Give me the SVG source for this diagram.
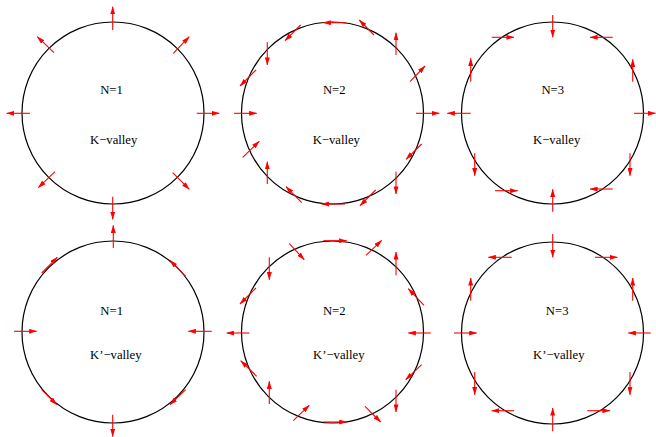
<svg xmlns="http://www.w3.org/2000/svg" width="656" height="437" viewBox="0 0 656 437">
<defs>
<marker id="ah" markerUnits="userSpaceOnUse" markerWidth="8" markerHeight="5" viewBox="0 0 8 5" refX="7.6" refY="2.5" orient="auto">
<path d="M0,0 L8,2.5 L0,5 z" fill="#ff0000"/>
</marker>
<style>
.c{fill:none;stroke:#000;stroke-width:1.2}
.a{stroke:#ff0000;stroke-width:1.1;fill:none;marker-end:url(#ah)}
text{font-family:"Liberation Serif","Times New Roman",serif;font-size:12.7px;fill:#000;text-anchor:middle}
</style>
</defs>
<rect width="656" height="437" fill="#fff"/>

<g id="panel-k-n1">
<circle class="c" cx="113" cy="113" r="91"/>
<text x="111.5" y="94.3">N=1</text>
<text x="113.7" y="144">K−valley</text>
<g class="arrows">
<line class="a" x1="112.7" y1="30" x2="112.7" y2="6.7"/>
<line class="a" x1="173.3" y1="53.3" x2="189.3" y2="36.7"/>
<line class="a" x1="196.7" y1="113.3" x2="219.3" y2="113.3"/>
<line class="a" x1="172.7" y1="172.7" x2="189.3" y2="189.3"/>
<line class="a" x1="112.7" y1="196.7" x2="112.7" y2="219.3"/>
<line class="a" x1="55" y1="171.7" x2="38.3" y2="187.7"/>
<line class="a" x1="30" y1="113.3" x2="6.7" y2="113.3"/>
<line class="a" x1="54" y1="52.7" x2="37.3" y2="36.7"/>
</g>
</g>

<g id="panel-k-n2">
<circle class="c" cx="332.5" cy="113" r="91"/>
<text x="334.3" y="94.3">N=2</text>
<text x="336.3" y="144">K−valley</text>
<g class="arrows">
<line class="a" x1="346" y1="22.7" x2="323.3" y2="22.7"/>
<line class="a" x1="374" y1="35" x2="359.3" y2="20"/>
<line class="a" x1="396" y1="55" x2="396" y2="32.7"/>
<line class="a" x1="410" y1="81.7" x2="425" y2="66"/>
<line class="a" x1="416" y1="113.3" x2="439.3" y2="113.3"/>
<line class="a" x1="421.7" y1="144" x2="406" y2="159.3"/>
<line class="a" x1="396" y1="171.7" x2="396" y2="194"/>
<line class="a" x1="375.7" y1="190" x2="360" y2="205.7"/>
<line class="a" x1="345" y1="204" x2="321.7" y2="204"/>
<line class="a" x1="301.7" y1="202.7" x2="286" y2="186.7"/>
<line class="a" x1="267.3" y1="184" x2="267.3" y2="161.7"/>
<line class="a" x1="242.7" y1="157.3" x2="259.3" y2="141.3"/>
<line class="a" x1="234" y1="113.3" x2="256.7" y2="113.3"/>
<line class="a" x1="256" y1="70" x2="240" y2="86"/>
<line class="a" x1="267.3" y1="42.3" x2="267.3" y2="65"/>
<line class="a" x1="300.7" y1="25" x2="285" y2="40.7"/>
</g>
</g>

<g id="panel-k-n3">
<circle class="c" cx="552.5" cy="113" r="91"/>
<text x="552.8" y="94.3">N=3</text>
<text x="556.7" y="144">K−valley</text>
<g class="arrows">
<line class="a" x1="552.7" y1="15" x2="552.7" y2="37.3"/>
<line class="a" x1="612.7" y1="37.3" x2="590" y2="37.3"/>
<line class="a" x1="632.7" y1="81.7" x2="632.7" y2="59.3"/>
<line class="a" x1="634" y1="113.3" x2="655.5" y2="113.3"/>
<line class="a" x1="630" y1="153.3" x2="630" y2="175.7"/>
<line class="a" x1="612.7" y1="189" x2="590" y2="189"/>
<line class="a" x1="552.7" y1="211.7" x2="552.7" y2="189.3"/>
<line class="a" x1="495" y1="190.7" x2="517.7" y2="190.7"/>
<line class="a" x1="474.7" y1="153.3" x2="474.7" y2="175.7"/>
<line class="a" x1="470.7" y1="113.3" x2="447.3" y2="113.3"/>
<line class="a" x1="470.7" y1="81.7" x2="470.7" y2="58.3"/>
<line class="a" x1="491.7" y1="37.3" x2="514" y2="37.3"/>
</g>
</g>

<g id="panel-kp-n1">
<circle class="c" cx="113" cy="332" r="91"/>
<text x="111.7" y="314.7">N=1</text>
<text x="115.8" y="358.7">K’−valley</text>
<g class="arrows">
<line class="a" x1="113.3" y1="248" x2="113.3" y2="225.3"/>
<line class="a" x1="185.7" y1="276.3" x2="170" y2="260.3"/>
<line class="a" x1="211.7" y1="331.3" x2="188.3" y2="331.3"/>
<line class="a" x1="185.7" y1="389.7" x2="170" y2="404.7"/>
<line class="a" x1="112.7" y1="414.7" x2="112.7" y2="436.5"/>
<line class="a" x1="41.7" y1="389.7" x2="56.7" y2="404.7"/>
<line class="a" x1="14" y1="331.3" x2="36.7" y2="331.3"/>
<line class="a" x1="41.7" y1="273" x2="57.3" y2="257.3"/>
</g>
</g>

<g id="panel-kp-n2">
<circle class="c" cx="332.5" cy="332" r="91"/>
<text x="334.3" y="315.3">N=2</text>
<text x="338.8" y="358.7">K’−valley</text>
<g class="arrows">
<line class="a" x1="323.3" y1="240.7" x2="346.7" y2="240.7"/>
<line class="a" x1="366" y1="255.3" x2="381.7" y2="240.3"/>
<line class="a" x1="396" y1="275.3" x2="396" y2="252"/>
<line class="a" x1="424" y1="305.3" x2="408.3" y2="288.7"/>
<line class="a" x1="430.7" y1="333" x2="408.3" y2="333"/>
<line class="a" x1="421.7" y1="364.7" x2="405.7" y2="379.7"/>
<line class="a" x1="396" y1="389.7" x2="396" y2="412"/>
<line class="a" x1="365" y1="406.3" x2="380.7" y2="422"/>
<line class="a" x1="323.3" y1="422" x2="346.7" y2="422"/>
<line class="a" x1="293.3" y1="420.7" x2="309.3" y2="405.3"/>
<line class="a" x1="269.3" y1="404" x2="269.3" y2="381.3"/>
<line class="a" x1="256.7" y1="376.3" x2="240.7" y2="360.7"/>
<line class="a" x1="249.3" y1="333" x2="226.7" y2="333"/>
<line class="a" x1="256" y1="288" x2="240" y2="304"/>
<line class="a" x1="269.3" y1="257.3" x2="269.3" y2="279.7"/>
<line class="a" x1="289.3" y1="243.7" x2="304.3" y2="259.7"/>
</g>
</g>

<g id="panel-kp-n3">
<circle class="c" cx="552.5" cy="333" r="91"/>
<text x="557.2" y="315.3">N=3</text>
<text x="558.8" y="358.7">K’−valley</text>
<g class="arrows">
<line class="a" x1="552.7" y1="234" x2="552.7" y2="257.3"/>
<line class="a" x1="595" y1="257.3" x2="617.3" y2="257.3"/>
<line class="a" x1="632.7" y1="300.7" x2="632.7" y2="278"/>
<line class="a" x1="650.7" y1="333" x2="628.3" y2="333"/>
<line class="a" x1="630" y1="372" x2="630" y2="394.7"/>
<line class="a" x1="587.3" y1="410.7" x2="610" y2="410.7"/>
<line class="a" x1="552.7" y1="431.3" x2="552.7" y2="408"/>
<line class="a" x1="514" y1="410.7" x2="491.7" y2="410.7"/>
<line class="a" x1="474.7" y1="372" x2="474.7" y2="394.7"/>
<line class="a" x1="454" y1="333" x2="476.7" y2="333"/>
<line class="a" x1="470.7" y1="300.7" x2="470.7" y2="278"/>
<line class="a" x1="511.7" y1="257.3" x2="488.3" y2="257.3"/>
</g>
</g>
</svg>
